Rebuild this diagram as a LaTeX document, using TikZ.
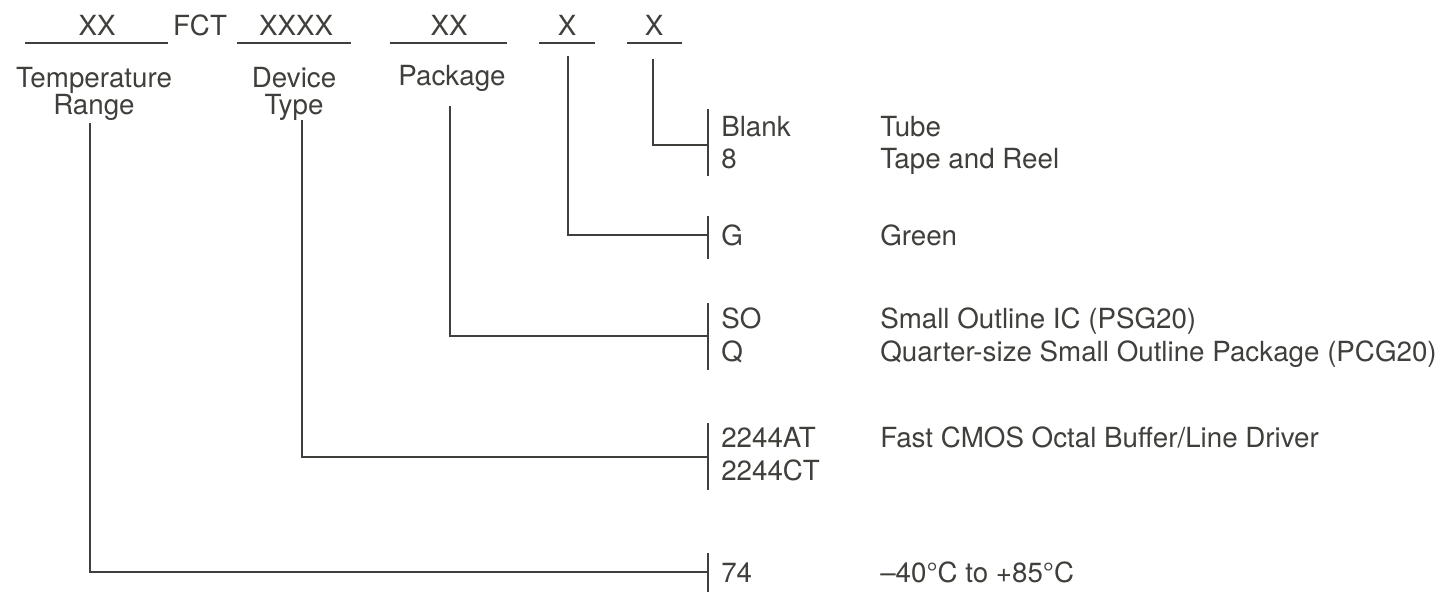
\documentclass[tikz,border=0pt]{standalone}
\usepackage{fontspec}
\setmainfont{TeX Gyre Heros}
\usepackage{xcolor}
\definecolor{ink}{HTML}{3F3F3B}

\begin{document}
\begin{tikzpicture}[x=0.75pt,y=0.75pt,yscale=-1,xscale=1,
    txt/.style={inner sep=0pt, text=ink, font=\fontsize{20.8}{20.3}\selectfont},
    field/.style={txt, anchor=base},
    code/.style={txt, anchor=base west},
    lbl/.style={txt, anchor=north, align=center},
    rule/.style={draw=ink, line width=1.2pt}]
    \useasboundingbox (0,0) rectangle (1448,592);

    % part number fields
    \draw [rule] (25,43) -- (168,43) ;
    \draw [rule] (237,43) -- (351,43) ;
    \draw [rule] (390,43) -- (507,43) ;
    \draw [rule] (539,43) -- (595,43) ;
    \draw [rule] (627,43) -- (682,43) ;
    \draw (97,36) node [field] (tempField) {XX};
    \draw (200,36) node [field] (fct) {FCT};
    \draw (296,36) node [field] (devField) {XXXX};
    \draw (449,36) node [field] (pkgField) {XX};
    \draw (567,36) node [field] (grnField) {X};
    \draw (654,36) node [field] (tubeField) {X};

    \draw (94,67) node [lbl] (tempLbl) {Temperature\\Range};
    \draw (294,67) node [lbl] (devLbl) {Device\\Type};
    \draw (452,65) node [lbl] (pkgLbl) {Package};

    % leader lines
    \coordinate (tempTop) at (90,123);
    \coordinate (devTop) at (302,120);
    \coordinate (pkgTop) at (450,106);
    \coordinate (grnTop) at (568,56);
    \coordinate (tubeTop) at (653,59);
    \coordinate (tubeBar) at (708,145);
    \coordinate (grnBar) at (708,235);
    \coordinate (pkgBar) at (708,336);
    \coordinate (devBar) at (708,457);
    \coordinate (tempBar) at (708,572);
    \draw [rule] (tubeTop) |- (tubeBar) ;
    \draw [rule] (grnTop) |- (grnBar) ;
    \draw [rule] (pkgTop) |- (pkgBar) ;
    \draw [rule] (devTop) |- (devBar) ;
    \draw [rule] (tempTop) |- (tempBar) ;

    % brackets
    \draw [rule] (708,109) -- (708,176) ;
    \draw [rule] (708,216) -- (708,259) ;
    \draw [rule] (708,303) -- (708,370) ;
    \draw [rule] (708,423) -- (708,490) ;
    \draw [rule] (708,553) -- (708,592) ;

    % codes and meanings
    \draw (721,136) node [code] (blank) {Blank};
    \draw (721,168) node [code] (eight) {8};
    \draw (880,136) node [code] (tube) {Tube};
    \draw (880,168) node [code] (reel) {Tape and Reel};
    \draw (721,245) node [code] (g) {G};
    \draw (880,245) node [code] (green) {Green};
    \draw (721,328) node [code] (so) {SO};
    \draw (721,361) node [code] (q) {Q};
    \draw (880,328) node [code] (soic) {Small Outline IC (PSG20)};
    \draw (880,361) node [code] (qsop) {Quarter-size Small Outline Package (PCG20)};
    \draw (721,447) node [code] (at) {2244AT};
    \draw (721,480) node [code] (ct) {2244CT};
    \draw (880,447) node [code] (fct) {Fast CMOS Octal Buffer/Line Driver};
    \draw (721,582) node [code] (range) {74};
    \draw (880,582) node [code] (temp) {–40°C to +85°C};
\end{tikzpicture}
\end{document}
